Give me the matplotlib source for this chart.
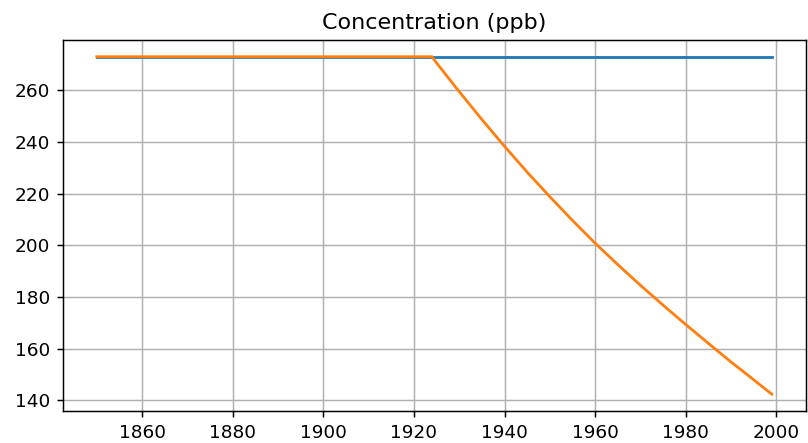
import matplotlib
matplotlib.use('Agg')
import matplotlib.pyplot as plt

# constant series
years_const = [1850, 1900, 1950, 1999]
conc_const = [273, 273, 273, 273]

# decaying series
years_decay = [1850, 1900, 1924, 1925, 1930, 1935, 1940, 1945, 1950, 1955, 1960,
               1965, 1970, 1975, 1980, 1985, 1990, 1995, 1999]
conc_decay = [273, 273, 273, 270.6, 259.5, 248.7, 238.3, 228.3, 218.8, 209.6, 200.8,
              192.5, 184.5, 176.8, 169.3, 162.0, 154.8, 147.9, 142.3]

fig = plt.figure(figsize=(808 / 133.33, 443 / 133.33), dpi=133.33)
ax = fig.add_axes([0.078, 0.072, 0.919, 0.838])
ax.plot(years_const, conc_const, color='#1f77b4', linewidth=1.5)
ax.plot(years_decay, conc_decay, color='#ff7f0e', linewidth=1.5)
ax.set_title('Concentration (ppb)', fontsize=12)
ax.grid(True)
fig.savefig('out.png', dpi=133.33)
